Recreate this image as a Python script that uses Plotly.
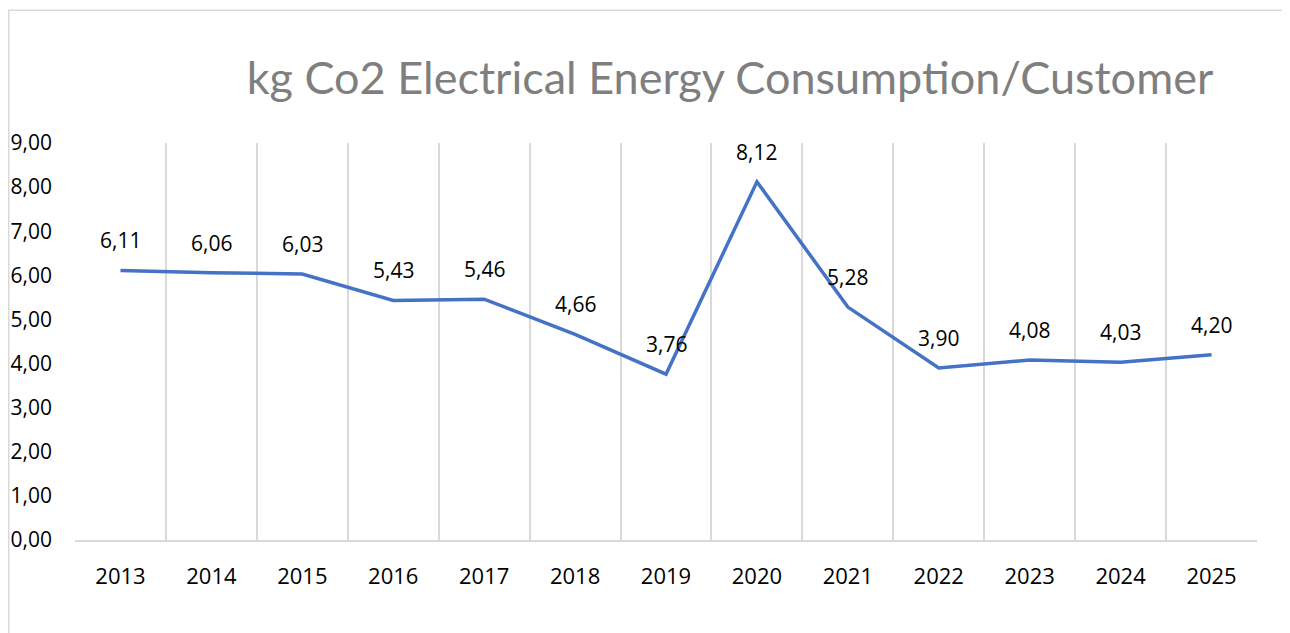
import plotly.graph_objects as go

years = ["2013", "2014", "2015", "2016", "2017", "2018", "2019",
         "2020", "2021", "2022", "2023", "2024", "2025"]
values = [6.11, 6.06, 6.03, 5.43, 5.46, 4.66, 3.76, 8.12, 5.28, 3.90, 4.08, 4.03, 4.20]
y_ticks = [0, 1, 2, 3, 4, 5, 6, 7, 8, 9]

OFF = 8  # page body margin
W, H = 1290 - OFF, 633 - OFF
L, R, T, B = 75 - OFF, 1290 - 1257, 143 - OFF, 633 - 540.5
pw, ph = W - L - R, H - T - B

def px_x(px):
    return (px - OFF - L) / pw

def px_y(py):
    return (H - B - (py - OFF)) / ph

fig = go.Figure()
fig.add_trace(go.Scatter(
    x=years, y=values, mode="lines",
    line=dict(color="#4472C4", width=3.5),
    hoverinfo="skip",
))

annotations = [
    dict(x=i, y=v, xref="x", yref="y", text=f"{v:.2f}".replace(".", ","),
         showarrow=False, yshift=30, yanchor="middle", xanchor="center",
         font=dict(family="Open Sans", size=21, color="#000000"))
    for i, v in enumerate(values)
]

fig.update_layout(
    width=W, height=H,
    margin=dict(l=L, r=R, t=T, b=B, autoexpand=False),
    paper_bgcolor="white", plot_bgcolor="white",
    separators=",.",
    showlegend=False,
    annotations=annotations,
    title=dict(
        text="kg Co2 Electrical Energy Consumption/Customer",
        font=dict(family="Lato", size=45, color="#7F7F7F"),
        x=px_x(730), xref="paper", xanchor="center",
        y=1 - (78 - OFF) / H, yref="container", yanchor="middle",
    ),
    xaxis=dict(
        type="category", tickson="boundaries", automargin=False,
        showgrid=True, gridcolor="#D9D9D9", gridwidth=1.5,
        showline=True, linecolor="#D9D9D9", linewidth=1.5,
        ticks="", ticklabelstandoff=16,
        tickfont=dict(family="Open Sans", size=22, color="#000000"),
        range=[-0.5, 12.5], fixedrange=True,
    ),
    yaxis=dict(
        range=[0, 9], tickvals=y_ticks, tickformat=".2f", automargin=False,
        showgrid=False, zeroline=False, showline=False,
        ticks="", ticklabelstandoff=22,
        tickfont=dict(family="Open Sans", size=21, color="#000000"),
        fixedrange=True,
    ),
    shapes=[dict(
        type="rect", xref="paper", yref="paper",
        x0=px_x(OFF + 0.75), x1=px_x(1300), y0=px_y(660), y1=px_y(10),
        line=dict(color="#D9D9D9", width=1.5), fillcolor="rgba(0,0,0,0)",
        layer="below",
    )],
)

fig.write_html("out.html")
